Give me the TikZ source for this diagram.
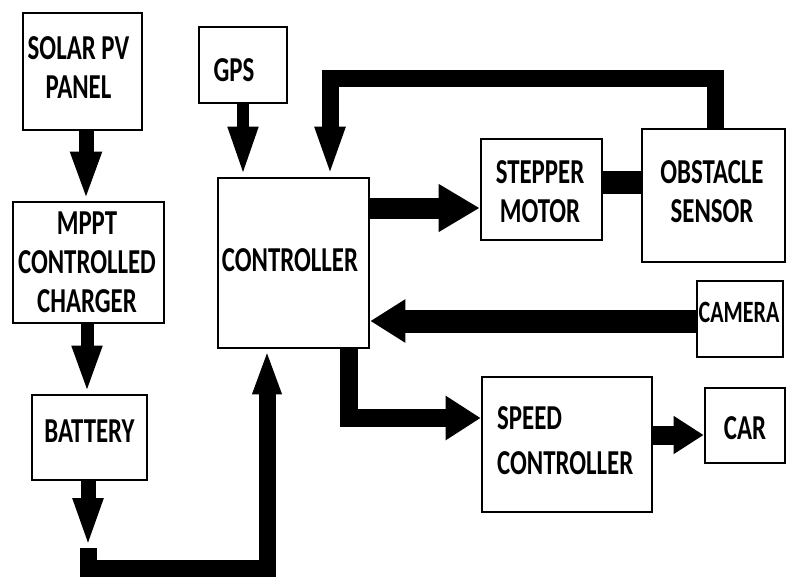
\documentclass[tikz,border=0pt]{standalone}
\usepackage{fontspec}
\setmainfont{Carlito}[FakeStretch=0.71]
\usetikzlibrary{arrows.meta}
\tikzset{
  box/.style={draw=black, line width=2.6pt, rectangle, inner sep=0pt},
  txt/.style={inner sep=0pt, align=center, font=\fontsize{35}{39}\selectfont\bfseries},
  wire/.style={draw=black, line width=#1, line join=miter},
}
\begin{document}
\begin{tikzpicture}[x=1pt, y=-1pt]
\useasboundingbox[fill=white] (0,0) rectangle (787,576);
% boxes
\node[box, minimum width=119pt, minimum height=117pt] (solar) at (82.5,71.5) {};
\node[box, minimum width=151pt, minimum height=121pt] (mppt) at (88.5,262.5) {};
\node[box, minimum width=115pt, minimum height=85pt] (bat) at (89.5,437.5) {};
\node[box, minimum width=88pt, minimum height=76pt] (gps) at (243,65) {};
\node[box, minimum width=151pt, minimum height=170pt] (ctrl) at (293.5,263) {};
\node[box, minimum width=121pt, minimum height=101pt] (step) at (541.5,189.5) {};
\node[box, minimum width=143pt, minimum height=133pt] (obs) at (713.5,195.5) {};
\node[box, minimum width=86pt, minimum height=76pt] (cam) at (740,319) {};
\node[box, minimum width=170pt, minimum height=135pt] (spd) at (567,444.5) {};
\node[box, minimum width=80pt, minimum height=75pt] (car) at (745,425.5) {};
% texts
\node[txt] (tsolar) at (78.5,67.5) {SOLAR PV\\PANEL};
\node[txt] (tmppt) at (87,262.5) {MPPT\\CONTROLLED\\CHARGER};
\node[txt] (tbat) at (89.5,431.5) {BATTERY};
\node[txt] (tgps) at (234,70) {GPS};
\node[txt] (tctrl) at (290,260) {CONTROLLER};
\node[txt] (tstep) at (540,192) {STEPPER\\MOTOR};
\node[txt] (tobs) at (712,192) {OBSTACLE\\SENSOR};
\node[txt, font=\fontsize{31}{34}\selectfont\bfseries] (tcam) at (739,312) {CAMERA};
\node[txt, align=left, anchor=west, font=\fontsize{35}{45}\selectfont\bfseries] (tspd) at (497,441) {SPEED\\CONTROLLER};
\node[txt] (tcar) at (745,428) {CAR};
% coordinates
\coordinate (bt) at (88,548);
\coordinate (bb) at (88,568);
\coordinate (br) at (267,568);
\coordinate (lt) at (330,78);
\coordinate (cs) at (349,418);
% connectors
\draw[wire=15pt, -{Triangle[length=49pt,width=28pt]}] (solar.south -| 86,0) -- (mppt.north -| 86,0);
\draw[wire=13pt, -{Triangle[length=48pt,width=27pt]}] (mppt.south -| 87,0) -- (bat.north -| 87,0);
\draw[wire=15pt, -{Triangle[length=50pt,width=27pt]}] (bat.south -| bt) -- (bt);
\draw[wire=17pt, -{Triangle[length=45pt,width=26pt]}] (bt) -- (bb) -- (br) -- (br |- ctrl.south);
\draw[wire=12pt, -{Triangle[length=50pt,width=27pt]}] (gps.south) -- (gps.south |- ctrl.north);
\draw[wire=17pt, -{Triangle[length=50pt,width=27pt]}] (obs.north -| 715,0) |- (lt) -- (lt |- ctrl.north);
\draw[wire=21pt, -{Triangle[length=41pt,width=45pt]}] (ctrl.east |- 0,208) -- (step.west |- 0,208);
\draw[wire=23pt] (step.east |- 0,182) -- (obs.west |- 0,182);
\draw[wire=23pt, -{Triangle[length=35pt,width=41pt]}] (cam.west |- 0,321) -- (ctrl.east |- 0,321);
\draw[wire=18pt, -{Triangle[length=35pt,width=42pt]}] (ctrl.south -| cs) -- (cs) -- (spd.west |- cs);
\draw[wire=19pt, -{Triangle[length=30pt,width=36pt]}] (spd.east |- 0,435) -- (car.west |- 0,435);
\end{tikzpicture}
\end{document}
